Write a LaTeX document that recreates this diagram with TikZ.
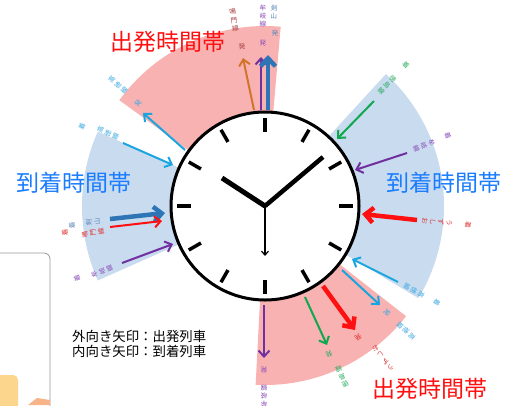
\documentclass[tikz,border=0pt]{standalone}
\usepackage{fontspec}
\setmainfont{Noto Sans CJK JP}
\usetikzlibrary{arrows.meta,calc}
\definecolor{pinkz}{HTML}{F8B2B2}
\definecolor{bluez}{HTML}{C8DBEF}
\definecolor{cOr}{HTML}{D2742A}
\definecolor{cPu}{HTML}{7030A0}
\definecolor{cBl}{HTML}{2E75B6}
\definecolor{cCy}{HTML}{1BA5E0}
\definecolor{cGr}{HTML}{10A84F}
\definecolor{cRd}{HTML}{FF1010}
\definecolor{cBig}{HTML}{1A7CFF}
\definecolor{lMn}{HTML}{A83C3C}
\definecolor{lPu}{HTML}{8A4CB8}
\definecolor{lBl}{HTML}{5A86B8}
\definecolor{lCy}{HTML}{3AA8E0}
\definecolor{lGr}{HTML}{2DAA60}
\definecolor{lRd}{HTML}{E03030}
\definecolor{lYe}{HTML}{FCD68C}
\definecolor{lOr}{HTML}{F6B488}
\tikzset{
  arr/.style={line width=2pt,-{Straight Barb[length=6pt,width=11pt]}},
  tarr/.style={line width=4.5pt,-{Straight Barb[length=8pt,width=15pt]}},
  lbl/.style={font=\fontsize{6.6}{8.2}\selectfont,align=center,inner sep=0pt},
  big/.style={font=\fontsize{23}{26}\selectfont,inner sep=0pt},
  leg/.style={font=\fontsize{13.4}{15}\selectfont,inner sep=0pt,anchor=west},
  tick/.style={line width=3.5pt},
}
\begin{document}
\begin{tikzpicture}[x=1pt,y=-1pt]
\useasboundingbox (0,0) rectangle (516,405);
\fill[white] (0,0) rectangle (516,405);
\coordinate (c) at (265,206);
% sectors (visual angles a..b -> xy angles -a..-b)
\fill[pinkz] (c) -- ++(-85:180) arc[start angle=-85,end angle=-144,radius=180] -- cycle;
\fill[bluez] (c) -- ++(31:179) arc[start angle=31,end angle=-47.5,radius=179] -- cycle;
\fill[bluez] (c) -- ++(-156:183) arc[start angle=-156,end angle=-204,radius=183] -- cycle;
\fill[pinkz] (c) -- ++(93:179) arc[start angle=93,end angle=38,radius=179] -- cycle;
% bottom-left box
\draw[gray!80,line width=0.8pt,rounded corners=6pt] (-10,253) -- (50,253) -- (50,420);
\fill[lYe,rounded corners=5pt] (-10,375) rectangle (18,420);
\fill[lOr] (28,405) -- (37,398) -- (50,400) -- (50,405) -- cycle;
% clock
\node[circle,draw,line width=3pt,fill=white,minimum size=188pt,inner sep=0pt] (clock) at (c) {};
\foreach \a in {0,30,...,330}{
  \draw[tick] ($(c)+(\a:74)$) -- ($(c)+(\a:88)$);
}
\coordinate (hh) at (222,178);
\coordinate (mh) at (323,157);
\coordinate (sh) at (265,256);
\draw[line width=5pt] (c) -- (hh);
\draw[line width=4.5pt] (c) -- (mh);
\draw[line width=1.2pt,-{Straight Barb[length=4pt,width=7pt]}] (c) -- (sh);
% arrows
\foreach \n/\ax/\ay/\bx/\by/\col/\st in {
  a1/254/110/243/58/cOr/arr,
  a2/261/110/261/57/cPu/arr,
  a3/268/110/268/55/cBl/tarr,
  a4/185/150/143/113/cCy/arr,
  a5/123/143/173/165/cCy/arr,
  a6/110/219/165/213/cBl/tarr,
  a7/110/227/162/221/cRd/arr,
  a8/122/263/173/244/cPu/arr,
  a9/374/101/337/139/cGr/arr,
  a10/407/153/355/170/cPu/arr,
  a11/417/220/362/214/cRd/tarr,
  a12/398/282/352/259/cCy/arr,
  a13/342/270/380/305/cCy/arr,
  a14/323/286/355/330/cRd/tarr,
  a15/305/297/327/345/cGr/arr,
  a16/264/305/264/358/cPu/arr}{
  \coordinate (s\n) at (\ax,\ay);
  \coordinate (e\n) at (\bx,\by);
  \draw[\st,\col] (s\n) -- (e\n);
}
% small labels
\foreach \n/\t/\x/\y/\r/\col in {
  l1/{鳴\\門\\線}/234/20/9.5/lMn,
  l2/{発}/242/47/8/lMn,
  l3/{牟\\岐\\線}/263/16/0/lPu,
  l4/{発}/263/43/0/lPu,
  l5/{剣\\山}/274/12/-3/lBl,
  l6/{発}/275/33/-3/lBl,
  l7/{発}/138/103/51/lCy,
  l8/{高\\徳\\線}/118/85/50.5/lCy,
  l9/{高\\徳\\線}/108/133/65/lCy,
  l10/{着}/82/126/66/lCy,
  l11/{剣\\山}/93/222/95/lBl,
  l12/{着}/72/225/96/lBl,
  l13/{鳴\\門\\線}/93/233/99/lRd,
  l14/{着}/65/233/98/lRd,
  l15/{牟\\岐\\線}/102/271/112/lPu,
  l16/{着}/77/278/111/lPu,
  l17/{徳\\島\\線}/387/85/-45/lGr,
  l18/{着}/406/65/-45/lGr,
  l19/{牟\\岐\\線}/424/146/-69/lPu,
  l20/{着}/448/136/-69/lPu,
  l21/{う\\ず\\し\\お}/437/222/-95/lRd,
  l22/{着}/468/225/-95/lRd,
  l23/{高\\徳\\線}/414/291/-120/lCy,
  l24/{着}/437/303/-119/lCy,
  l25/{発}/387/313/-131/lCy,
  l26/{高\\徳\\線}/406/331/-132/lCy,
  l27/{発}/358/337/-145/lRd,
  l28/{う\\ず\\し\\お}/383/358/-142/lRd,
  l29/{発}/329/354/-157/lGr,
  l30/{徳\\島\\線}/342/377/-156/lGr,
  l31/{発}/264/370/-180/lPu,
  l32/{牟\\岐\\線}/264/396/-180/lPu}{
  \node[lbl,text=\col,rotate=\r] (\n) at (\x,\y) {\t};
}
% big labels
\node[big,text=cRd] (dep1) at (168,42) {出発時間帯};
\node[big,text=cRd] (dep2) at (430,389) {出発時間帯};
\node[big,text=cBig] (arr1) at (74,183) {到着時間帯};
\node[big,text=cBig] (arr2) at (444,183) {到着時間帯};
% legend
\node[leg] (lg1) at (72,336) {外向き矢印：出発列車};
\node[leg] (lg2) at (72,351) {内向き矢印：到着列車};
\end{tikzpicture}
\end{document}
